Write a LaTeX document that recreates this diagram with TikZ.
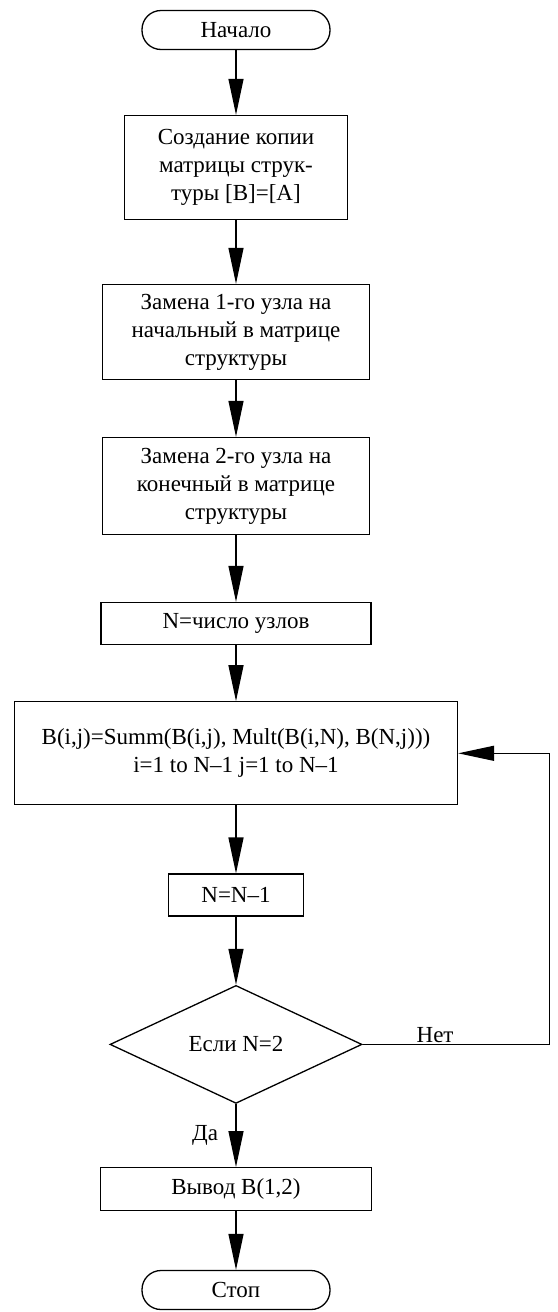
\documentclass[tikz,border=0pt]{standalone}
\usepackage{fontspec}
\setmainfont{Liberation Serif}
\usetikzlibrary{arrows.meta,positioning,shapes.geometric}

\begin{document}
\begin{tikzpicture}[x=1pt,y=-1pt,
    every node/.style={font=\fontsize{23}{28}\selectfont},
    block/.style={draw,rectangle,line width=1.3pt,align=center,inner sep=4pt},
    term/.style={draw,rectangle,rounded corners=19pt,line width=1.3pt,
                 minimum width=188pt,minimum height=39pt},
    cond/.style={draw,diamond,line width=1.3pt,inner sep=0pt,
                 minimum width=252pt,minimum height=118pt},
    flow/.style={line width=1.3pt,-{Triangle[length=36pt,width=15pt]}}]

  \useasboundingbox (0,0) rectangle (557,1312);

          \node[term]  (start) at (236,30)   {Начало};
          \node[block,minimum width=223pt,minimum height=104pt]
                       (copy)   [below=64.7pt of start]  {Создание копии\\матрицы струк-\\туры [B]=[A]};
          \node[block,minimum width=267pt,minimum height=95pt]
                       (first)  [below=63.7pt of copy]   {Замена 1-го узла на\\начальный в матрице\\структуры};
          \node[block,minimum width=267pt,minimum height=97pt]
                       (second) [below=56.7pt of first]  {Замена 2-го узла на\\конечный в матрице\\структуры};
          \node[block,minimum width=270pt,minimum height=42pt]
                       (count)  [below=66.7pt of second] {N=число узлов};
          \node[block,minimum width=443pt,minimum height=103pt]
                       (summ)   [below=56pt of count]    {B(i,j)=Summ(B(i,j), Mult(B(i,N), B(N,j)))\\i=1 to N--1 j=1 to N--1};
          \node[block,minimum width=135pt,minimum height=42pt]
                       (dec)    [below=68pt of summ]     {N=N--1};
          \node[cond]  (check)  [below=68pt of dec]      {Если N=2};
          \node[block,minimum width=271pt,minimum height=43pt]
                       (out)    [below=63pt of check]    {Вывод B(1,2)};
          \node[term]  (stop)   [below=58.5pt of out]    {Стоп};

          \coordinate[right=187pt of check.east] (back);

          \path[flow] (start)  edge (copy)
                      (copy)   edge (first)
                      (first)  edge (second)
                      (second) edge (count)
                      (count)  edge (summ)
                      (summ)   edge (dec)
                      (dec)    edge (check)
                      (check)  edge node[left=14pt] {Да} (out)
                      (out)    edge (stop);

          \draw[flow] (check.east) -- node[above right,pos=0.28,inner sep=1pt] {Нет} (back)
                      |- (summ.east);
        \end{tikzpicture}
\end{document}
